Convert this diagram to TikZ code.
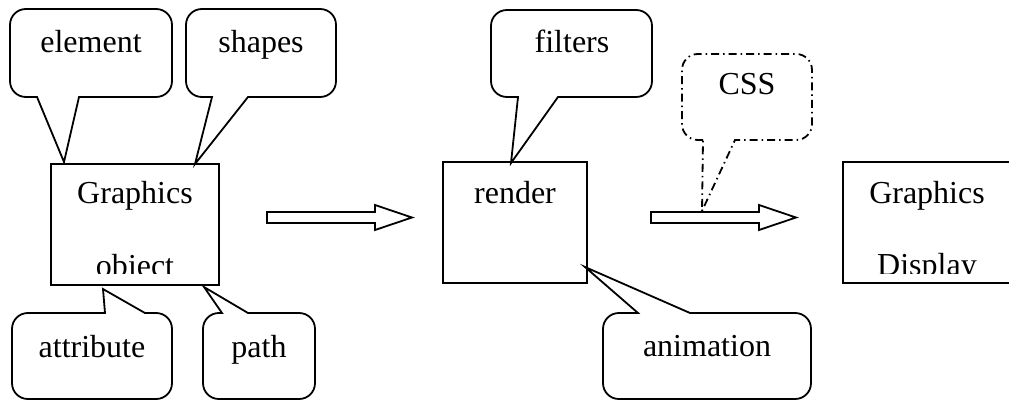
\documentclass[tikz,border=0pt]{standalone}
\usepackage{fontspec}
\setmainfont{Liberation Serif}

% corner radius of the speech bubbles and its Bezier handle length
\newcommand\crad{16}
\newcommand\chnd{7}

% bubble with its pointer on the bottom edge:
% #1 style, #2 left, #3 top, #4 right, #5 bottom, #6/#7 pointer base, #8/#9 tip
\newcommand\bubbledown[9]{%
  \draw[#1] (#6,#5) -- (#2+\crad,#5)
    .. controls (#2+\chnd,#5) and (#2,#5-\chnd) .. (#2,#5-\crad)
    -- (#2,#3+\crad)
    .. controls (#2,#3+\chnd) and (#2+\chnd,#3) .. (#2+\crad,#3)
    -- (#4-\crad,#3)
    .. controls (#4-\chnd,#3) and (#4,#3+\chnd) .. (#4,#3+\crad)
    -- (#4,#5-\crad)
    .. controls (#4,#5-\chnd) and (#4-\chnd,#5) .. (#4-\crad,#5)
    -- (#7,#5) -- (#8,#9) -- cycle;}

% bubble with its pointer on the top edge (same arguments)
\newcommand\bubbleup[9]{%
  \draw[#1] (#7,#3) -- (#4-\crad,#3)
    .. controls (#4-\chnd,#3) and (#4,#3+\chnd) .. (#4,#3+\crad)
    -- (#4,#5-\crad)
    .. controls (#4,#5-\chnd) and (#4-\chnd,#5) .. (#4-\crad,#5)
    -- (#2+\crad,#5)
    .. controls (#2+\chnd,#5) and (#2,#5-\chnd) .. (#2,#5-\crad)
    -- (#2,#3+\crad)
    .. controls (#2,#3+\chnd) and (#2+\chnd,#3) .. (#2+\crad,#3)
    -- (#6,#3) -- (#8,#9) -- cycle;}

\tikzset{
  every node/.style={inner sep=0pt, outer sep=0pt, font=\fontsize{32}{38}\selectfont},
  lbl/.style={anchor=base},
  bubble/.style={draw=black, line width=1.8pt, line join=miter, fill=white},
  dotbubble/.style={bubble, dash pattern=on 8pt off 4pt on 1.5pt off 4pt},
  panel/.style={draw=black, line width=2pt, anchor=north west},
  blockarrow/.style={draw=black, line width=1.8pt, line join=miter, fill=white},
}

\begin{document}
\begin{tikzpicture}[x=1pt, y=-1pt]
\useasboundingbox (0,0) rectangle (1009,401);
\clip (0,0) rectangle (1009,401);

% speech bubbles
\bubbledown{bubble}{10}{9}{172}{97}{37}{79}{64}{162}
\bubbledown{bubble}{186}{9}{336}{97}{212}{248}{195}{164}
\bubbledown{bubble}{491}{10}{652}{97}{518}{558}{511}{163}
\bubbledown{dotbubble}{682}{54}{812}{140}{703}{735}{702}{211}
\bubbleup{bubble}{12}{313}{172}{399}{105}{145}{103}{289}
\bubbleup{bubble}{203}{313}{315}{399}{222}{248}{204}{287}
\bubbleup{bubble}{603}{313}{811}{399}{638}{690}{585}{267}

\node[lbl] (element) at (91,53) {element};
\node[lbl] (shapes) at (261,53) {shapes};
\node[lbl] (filters) at (572,53) {filters};
\node[lbl] (css) at (747,95) {CSS};
\node[lbl] (attribute) at (92,357) {attribute};
\node[lbl] (path) at (259,357) {path};
\node[lbl] (animation) at (707,356) {animation};

% processing boxes
\node[panel, minimum width=168pt, minimum height=121pt] (gobj) at (51,164) {};
\node[panel, minimum width=144pt, minimum height=121pt] (render) at (443,162) {};
\node[panel, minimum width=168pt, minimum height=121pt] (gdisp) at (843,162) {};

\node[lbl] (gobjtop) at (135,203) {Graphics};
\begin{scope}
  \clip (51,164) rectangle (219,273.5);
  \node[lbl] (gobjbot) at (135,276.5) {object};
\end{scope}
\node[lbl] (rendertxt) at (515,203) {render};
\node[lbl] (gdisptop) at (927,203) {Graphics};
\begin{scope}
  \clip (843,162) rectangle (1009,273);
  \node[lbl] (gdispbot) at (927,275.5) {Display};
\end{scope}

% block arrows between the stages
\coordinate (a1) at (267,217.5);
\coordinate (a2) at (651,217.5);
\draw[blockarrow] (a1) ++(0,-5.5) -- ++(108,0) -- ++(0,-7) -- ++(37,12.5)
  -- ++(-37,12.5) -- ++(0,-7) -- ++(-108,0) -- cycle;
\draw[blockarrow] (a2) ++(0,-5.5) -- ++(108,0) -- ++(0,-7) -- ++(37,12.5)
  -- ++(-37,12.5) -- ++(0,-7) -- ++(-108,0) -- cycle;
\end{tikzpicture}
\end{document}
